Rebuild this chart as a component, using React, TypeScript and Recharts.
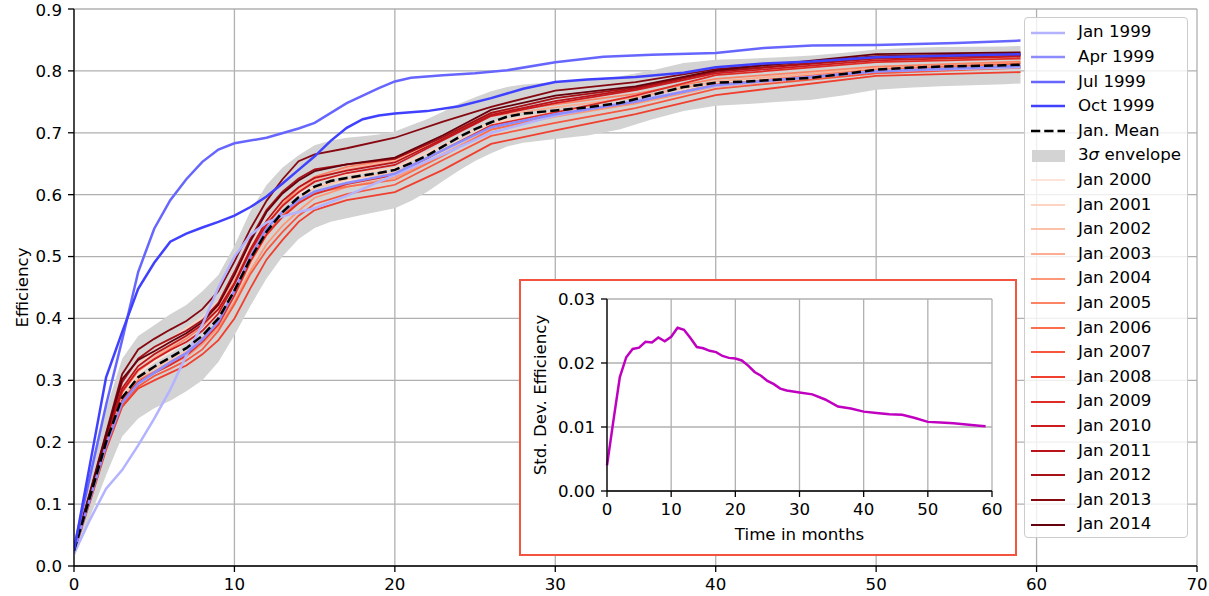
import React from 'react';
import { ComposedChart, LineChart, Line, Area, XAxis, YAxis, CartesianGrid } from 'recharts';

// ---------- data ----------
const X_TICKS = [0, 10, 20, 30, 40, 50, 60, 70];
const Y_TICKS = [0, 0.1, 0.2, 0.3, 0.4, 0.5, 0.6, 0.7, 0.8, 0.9];
const INSET_X_TICKS = [0, 10, 20, 30, 40, 50, 60];
const INSET_Y_TICKS = [0, 0.01, 0.02, 0.03];

// months for mean / std dev
const STD_X = [0,1,2,3,4,5,6,7,8,9,10,11,12,13,14,15,16,17,18,19,20,21,22,23,24,25,26,27,28,30,32,34,36,38,40,42,44,46,48,50,52,54,56,58,59];
const MEAN = [0.025,0.112,0.200,0.272,0.305,0.322,0.337,0.352,0.372,0.400,0.445,0.497,0.540,0.572,0.596,0.613,0.622,0.627,0.631,0.635,0.640,0.651,0.663,0.678,0.693,0.706,0.717,0.726,0.731,0.736,0.741,0.748,0.761,0.774,0.781,0.783,0.786,0.789,0.795,0.802,0.805,0.807,0.808,0.809,0.810];
const STD = [0.0040,0.0110,0.0178,0.0209,0.0222,0.0224,0.0233,0.0232,0.0240,0.0234,0.0241,0.0255,0.0252,0.0239,0.0225,0.0223,0.0219,0.0217,0.0211,0.0208,0.0207,0.0204,0.0196,0.0186,0.0180,0.0172,0.0167,0.0160,0.0157,0.0154,0.0151,0.0143,0.0132,0.0129,0.0124,0.0122,0.0120,0.0119,0.0114,0.0108,0.0107,0.0106,0.0104,0.0102,0.0101];

// months for the cohort lines
const X_RED = [0,1,2,3,4,5,6,7,8,9,10,11,12,13,14,15,17,20,23,26,30,35,40,50,59];

const JAN_1999 = [0.020,0.075,0.125,0.155,0.195,0.238,0.285,0.340,0.390,0.450,0.500,0.535,0.555,0.565,0.572,0.578,0.598,0.632,0.665,0.700,0.728,0.752,0.776,0.800,0.806];
const APR_1999 = [0.024,0.109,0.195,0.264,0.295,0.312,0.329,0.344,0.366,0.395,0.445,0.500,0.545,0.572,0.591,0.605,0.619,0.634,0.672,0.709,0.730,0.750,0.777,0.799,0.808];

const JUL_X = [0,1,2,3,4,5,6,7,8,9,10,12,14,15,17,19,20,21,23,25,27,30,33,36,40,43,46,50,55,59];
const JUL_1999 = [0.030,0.145,0.260,0.365,0.475,0.545,0.591,0.625,0.653,0.673,0.683,0.692,0.707,0.716,0.748,0.772,0.783,0.789,0.793,0.796,0.801,0.814,0.823,0.826,0.829,0.837,0.841,0.842,0.845,0.849];

const OCT_X = [0,1,2,3,4,5,6,7,8,9,10,11,12,13,14,15,16,17,18,19,20,22,24,26,28,30,32,35,38,40,43,46,50,55,59];
const OCT_1999 = [0.025,0.165,0.305,0.378,0.448,0.490,0.524,0.537,0.547,0.556,0.566,0.580,0.597,0.618,0.640,0.662,0.687,0.708,0.722,0.728,0.731,0.735,0.743,0.756,0.771,0.782,0.786,0.790,0.797,0.806,0.812,0.815,0.822,0.825,0.827];

const JAN_2000 = [0.025,0.114,0.203,0.277,0.311,0.330,0.345,0.362,0.382,0.412,0.460,0.515,0.560,0.584,0.601,0.613,0.623,0.634,0.673,0.713,0.732,0.752,0.779,0.801,0.809];
const JAN_2001 = [0.027,0.118,0.208,0.284,0.325,0.347,0.367,0.384,0.402,0.428,0.470,0.517,0.558,0.587,0.606,0.621,0.632,0.643,0.680,0.717,0.734,0.752,0.779,0.800,0.808];
const JAN_2002 = [0.024,0.110,0.197,0.270,0.303,0.319,0.333,0.347,0.366,0.392,0.435,0.487,0.532,0.567,0.593,0.611,0.625,0.636,0.672,0.711,0.731,0.751,0.778,0.802,0.810];
const JAN_2003 = [0.026,0.115,0.206,0.282,0.317,0.337,0.355,0.372,0.394,0.420,0.463,0.512,0.552,0.582,0.606,0.625,0.641,0.655,0.690,0.727,0.741,0.757,0.783,0.804,0.813];
const JAN_2004 = [0.025,0.110,0.196,0.266,0.297,0.312,0.325,0.338,0.358,0.385,0.427,0.477,0.520,0.550,0.574,0.595,0.612,0.628,0.666,0.705,0.726,0.747,0.775,0.798,0.807];
const JAN_2005 = [0.027,0.115,0.205,0.280,0.315,0.334,0.351,0.367,0.387,0.415,0.457,0.507,0.550,0.584,0.611,0.629,0.645,0.658,0.694,0.732,0.746,0.763,0.787,0.807,0.815];
const JAN_2006 = [0.025,0.109,0.195,0.267,0.300,0.314,0.329,0.344,0.367,0.395,0.443,0.497,0.537,0.567,0.588,0.603,0.613,0.624,0.663,0.705,0.728,0.750,0.778,0.802,0.812];
const JAN_2007 = [0.023,0.106,0.190,0.260,0.290,0.307,0.319,0.332,0.350,0.380,0.423,0.472,0.510,0.540,0.566,0.585,0.601,0.616,0.656,0.695,0.716,0.740,0.771,0.796,0.805];
const JAN_2008 = [0.022,0.104,0.188,0.257,0.287,0.300,0.312,0.324,0.342,0.365,0.400,0.449,0.495,0.527,0.556,0.575,0.591,0.604,0.640,0.682,0.704,0.730,0.761,0.792,0.798];
const JAN_2009 = [0.023,0.108,0.195,0.267,0.297,0.312,0.325,0.340,0.362,0.390,0.437,0.492,0.535,0.564,0.586,0.601,0.617,0.632,0.672,0.712,0.733,0.760,0.793,0.814,0.820];
const JAN_2010 = [0.025,0.114,0.205,0.282,0.317,0.334,0.349,0.362,0.380,0.408,0.455,0.509,0.552,0.582,0.604,0.621,0.635,0.648,0.688,0.727,0.748,0.769,0.796,0.817,0.823];
const JAN_2011 = [0.027,0.117,0.208,0.287,0.323,0.342,0.357,0.372,0.390,0.415,0.457,0.512,0.558,0.590,0.612,0.627,0.639,0.652,0.690,0.729,0.751,0.771,0.799,0.820,0.825];
const JAN_2012 = [0.025,0.116,0.210,0.297,0.335,0.354,0.367,0.380,0.397,0.425,0.475,0.529,0.575,0.605,0.626,0.641,0.649,0.658,0.693,0.732,0.756,0.773,0.799,0.822,0.826];
const JAN_2013 = [0.028,0.120,0.215,0.310,0.350,0.367,0.382,0.396,0.415,0.444,0.492,0.545,0.590,0.625,0.654,0.665,0.675,0.692,0.718,0.742,0.768,0.782,0.803,0.824,0.828];
const JAN_2014 = [0.027,0.118,0.212,0.302,0.333,0.347,0.362,0.376,0.394,0.422,0.470,0.525,0.572,0.602,0.623,0.638,0.649,0.660,0.696,0.737,0.760,0.775,0.801,0.827,0.830];

const JAN_NAMES = ['Jan 2000','Jan 2001','Jan 2002','Jan 2003','Jan 2004','Jan 2005','Jan 2006','Jan 2007','Jan 2008','Jan 2009','Jan 2010','Jan 2011','Jan 2012','Jan 2013','Jan 2014'];
const JAN_COLORS = ['#fee4d8','#fdd4c2','#fcc1a9','#fcad92','#fc9878','#fc8363','#fb6e4e','#f6573e','#f03f2e','#e02c26','#cd1a1e','#ba141a','#a61016','#860811','#67000d'];
const JAN_SERIES = [JAN_2000,JAN_2001,JAN_2002,JAN_2003,JAN_2004,JAN_2005,JAN_2006,JAN_2007,JAN_2008,JAN_2009,JAN_2010,JAN_2011,JAN_2012,JAN_2013,JAN_2014];

const BLUE_NAMES = ['Jan 1999', 'Apr 1999', 'Jul 1999', 'Oct 1999'];
const BLUE_COLORS = ['#b3b3ff', '#8c8cff', '#6666ff', '#4040ff'];

// ---------- helpers ----------
const pts = (xs: number[], ys: number[]) => xs.map((x, i) => ({ x, v: ys[i] }));
const envData = STD_X.map((x, i) => ({ x, mean: MEAN[i], range: [MEAN[i] - 3 * STD[i], MEAN[i] + 3 * STD[i]] }));
const stdData = STD_X.map((x, i) => ({ x, s: STD[i] }));

const FONT = 16.67;
const AX = { stroke: '#000', strokeWidth: 1.3 };
const TICK = { fill: '#000', fontSize: FONT };

const BLUE_X = [X_RED, X_RED, JUL_X, OCT_X];
const BLUE_Y = [JAN_1999, APR_1999, JUL_1999, OCT_1999];

export default function App() {
  const legendRows: { label: React.ReactNode; kind: 'line' | 'dash' | 'patch'; color: string; w: number }[] = [
    ...BLUE_NAMES.map((n, i) => ({ label: n, kind: 'line' as const, color: BLUE_COLORS[i], w: 2.5 })),
    { label: 'Jan. Mean', kind: 'dash', color: '#000', w: 2.5 },
    { label: <span>3<i>σ</i> envelope</span>, kind: 'patch', color: '#d3d3d3', w: 0 },
    ...JAN_NAMES.map((n, i) => ({ label: n, kind: 'line' as const, color: JAN_COLORS[i], w: 1.8 })),
  ];

  return (
    <div style={{ position: 'absolute', left: 0, top: 0, width: 1209, height: 596, background: '#fff', overflow: 'hidden', fontFamily: '"DejaVu Sans", sans-serif' }}>
      <ComposedChart width={1209} height={596} data={envData} margin={{ top: 9, right: 12, bottom: 0, left: 0 }}>
        <CartesianGrid stroke="#b0b0b0" strokeWidth={1.3} />
        <XAxis dataKey="x" type="number" domain={[0, 70]} ticks={X_TICKS} height={30} tickSize={6} tickMargin={6}
          axisLine={AX} tickLine={AX} tick={TICK} allowDataOverflow />
        <YAxis type="number" domain={[0, 0.9]} ticks={Y_TICKS} width={74} tickSize={6} tickMargin={6}
          axisLine={AX} tickLine={AX} tick={TICK} tickFormatter={(v: number) => v.toFixed(1)} allowDataOverflow
          label={{ value: 'Efficiency', angle: -90, position: 'insideLeft', offset: 22, style: { textAnchor: 'middle', fill: '#000', fontSize: FONT } }} />
        <XAxis xAxisId="top" orientation="top" dataKey="x" type="number" domain={[0, 70]} height={0} tick={false} tickLine={false} axisLine={AX} />
        <YAxis yAxisId="right" orientation="right" type="number" domain={[0, 0.9]} width={0} tick={false} tickLine={false} axisLine={AX} />
        <Area dataKey="range" type="linear" fill="#d3d3d3" fillOpacity={1} stroke="none" isAnimationActive={false} dot={false} activeDot={false} />
        {JAN_SERIES.map((s, i) => (
          <Line key={JAN_NAMES[i]} data={pts(X_RED, s)} dataKey="v" type="linear" stroke={JAN_COLORS[i]} strokeWidth={1.8}
            dot={false} activeDot={false} isAnimationActive={false} />
        ))}
        {[0, 1].map((i) => (
          <Line key={BLUE_NAMES[i]} data={pts(BLUE_X[i], BLUE_Y[i])} dataKey="v" type="linear" stroke={BLUE_COLORS[i]} strokeWidth={2.5}
            dot={false} activeDot={false} isAnimationActive={false} />
        ))}
        <Line dataKey="mean" type="linear" stroke="#000" strokeWidth={2.5} strokeDasharray="9.25 4"
          dot={false} activeDot={false} isAnimationActive={false} />
        {[2, 3].map((i) => (
          <Line key={BLUE_NAMES[i]} data={pts(BLUE_X[i], BLUE_Y[i])} dataKey="v" type="linear" stroke={BLUE_COLORS[i]} strokeWidth={2.5}
            dot={false} activeDot={false} isAnimationActive={false} />
        ))}
      </ComposedChart>

      {/* legend */}
      <div style={{ position: 'absolute', left: 1024, top: 17, width: 164, height: 521, boxSizing: 'border-box', border: '1px solid #cccccc', borderRadius: 4, background: 'rgba(255,255,255,0.8)' }}>
        {legendRows.map((r, i) => (
          <div key={i} style={{ position: 'absolute', left: 0, top: 2.4 + 24.6 * i, height: 24.6, width: 160, display: 'flex', alignItems: 'center' }}>
            <svg width={34} height={14} style={{ marginLeft: 6, flex: 'none' }}>
              {r.kind === 'patch' ? (
                <rect x={1} y={1} width={33} height={12} fill={r.color} />
              ) : (
                <line x1={0} y1={7} x2={34} y2={7} stroke={r.color} strokeWidth={r.w} strokeDasharray={r.kind === 'dash' ? '9.25 4' : undefined} />
              )}
            </svg>
            <span style={{ marginLeft: 13, fontSize: FONT, color: '#000', whiteSpace: 'nowrap', lineHeight: '24.6px' }}>{r.label}</span>
          </div>
        ))}
      </div>

      {/* inset */}
      <div style={{ position: 'absolute', left: 519, top: 279, width: 498, height: 277, boxSizing: 'border-box', border: '2px solid #f2543f', background: '#fff' }} />
      <div style={{ position: 'absolute', left: 521, top: 281 }}>
        <LineChart width={494} height={273} data={stdData} margin={{ top: 18, right: 23, bottom: 0, left: 0 }}>
          <CartesianGrid stroke="#b0b0b0" strokeWidth={1.3} />
          <XAxis dataKey="x" type="number" domain={[0, 60]} ticks={INSET_X_TICKS} height={63} tickSize={6} tickMargin={6}
            axisLine={AX} tickLine={AX} tick={TICK}
            label={{ value: 'Time in months', position: 'insideBottom', offset: 14, style: { fill: '#000', fontSize: FONT } }} />
          <YAxis type="number" domain={[0, 0.03]} ticks={INSET_Y_TICKS} width={86} tickSize={6} tickMargin={6}
            axisLine={AX} tickLine={AX} tick={TICK} tickFormatter={(v: number) => v.toFixed(2)}
            label={{ value: 'Std. Dev. Efficiency', angle: -90, position: 'insideLeft', offset: 19, style: { textAnchor: 'middle', fill: '#000', fontSize: FONT } }} />
          <XAxis xAxisId="top" orientation="top" dataKey="x" type="number" domain={[0, 60]} height={0} tick={false} tickLine={false} axisLine={AX} />
          <YAxis yAxisId="right" orientation="right" type="number" domain={[0, 0.03]} width={0} tick={false} tickLine={false} axisLine={AX} />
          <Line dataKey="s" type="linear" stroke="#c000c0" strokeWidth={2.5} dot={false} activeDot={false} isAnimationActive={false} />
        </LineChart>
      </div>
    </div>
  );
}
